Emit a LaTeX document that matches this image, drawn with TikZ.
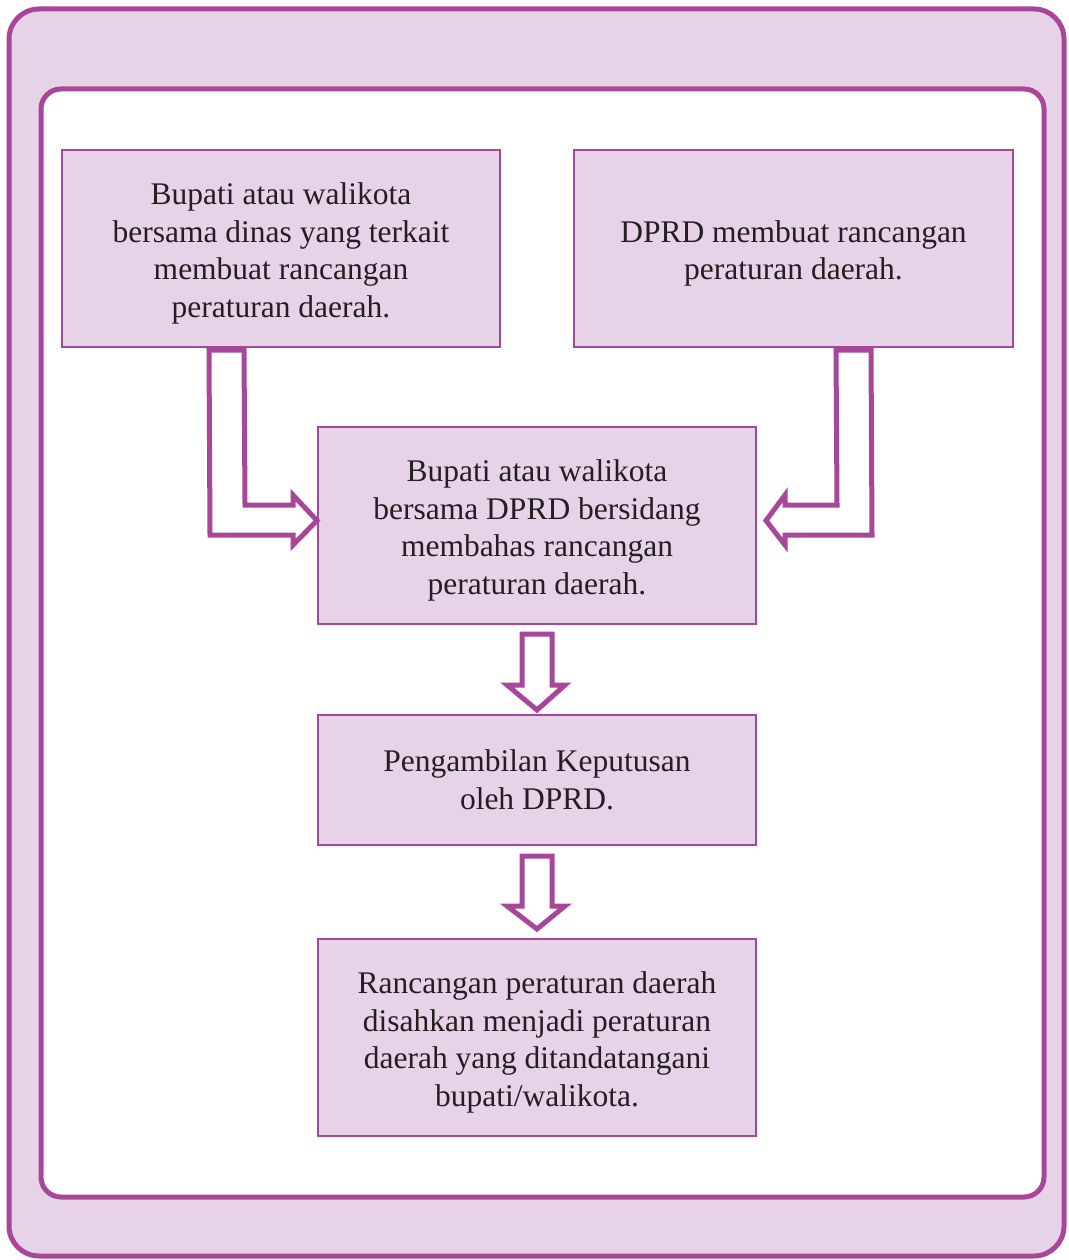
\documentclass[tikz,border=0pt]{standalone}
\usepackage{fontspec}
\setmainfont{Liberation Serif}
\usetikzlibrary{calc}
\definecolor{plum}{HTML}{A8479A}
\definecolor{lilac}{HTML}{E6D3E8}
\definecolor{ink}{HTML}{231F20}
\newcommand\topgap{\rule{0pt}{32pt}}
\tikzset{
  stepbox/.style={draw=plum, line width=2pt, fill=lilac, text=ink, align=center,
    font=\fontsize{31.5}{37.5}\selectfont, inner sep=0pt},
  hollow/.style={draw=plum, line width=5pt, fill=white, line join=miter},
}
\begin{document}
\begin{tikzpicture}[x=1pt,y=-1pt]
\useasboundingbox (0,0) rectangle (1068,1260);
\draw[plum, line width=5pt, fill=lilac, rounded corners=30pt] (9,9) rectangle (1064,1256);
\draw[plum, line width=5pt, fill=white, rounded corners=20pt] (41,89) rectangle (1044,1197);

\node[stepbox, minimum width=438pt, minimum height=197pt] (b1) at (281,248.5)
  {\topgap Bupati atau walikota\\bersama dinas yang terkait\\membuat rancangan\\peraturan daerah.};
\node[stepbox, minimum width=439pt, minimum height=197pt] (b2) at (793.5,248.5)
  {\topgap DPRD membuat rancangan\\peraturan daerah.};
\node[stepbox, minimum width=438pt, minimum height=197pt] (b3) at (537,525.5)
  {\topgap Bupati atau walikota\\bersama DPRD bersidang\\membahas rancangan\\peraturan daerah.};
\node[stepbox, minimum width=438pt, minimum height=130pt] (b4) at (537,780)
  {Pengambilan Keputusan\\oleh DPRD.};
\node[stepbox, minimum width=438pt, minimum height=197pt] (b5) at (537,1037.5)
  {\topgap Rancangan peraturan daerah\\disahkan menjadi peraturan\\daerah yang ditandatangani\\bupati/walikota.};

% left L-shaped hollow arrow b1 -> b3
\coordinate (ls1) at ($(b1.south west)+(148,2)$);
\coordinate (ls2) at ($(b1.south west)+(183,2)$);
\coordinate (lt) at ($(b3.west)+(0,-5)$);
\draw[hollow] (ls1) -- (210,535) -- (293,535) -- (293,545)
  -- (lt) -- (293,495) -- (293,505) -- (245,505) -- (ls2) -- cycle;
% right L-shaped hollow arrow b2 -> b3
\coordinate (rs1) at ($(b2.south west)+(298,2)$);
\coordinate (rs2) at ($(b2.south west)+(263,2)$);
\coordinate (rt) at ($(b3.east)+(9,-5)$);
\draw[hollow] (rs1) -- (872,535) -- (785,535) -- (785,545)
  -- (rt) -- (785,495) -- (785,505) -- (837,505) -- (rs2) -- cycle;
% down arrows
\coordinate (d1) at ($(b4.north)+(0,-4)$);
\draw[hollow] (522,634) -- (552,634) -- (552,685) -- (565,685) -- (d1) -- (507,685) -- (522,685) -- cycle;
\coordinate (d2) at ($(b5.north)+(0,-9)$);
\draw[hollow] (522,856) -- (552,856) -- (552,906) -- (565,906) -- (d2) -- (507,906) -- (522,906) -- cycle;
\end{tikzpicture}
\end{document}
